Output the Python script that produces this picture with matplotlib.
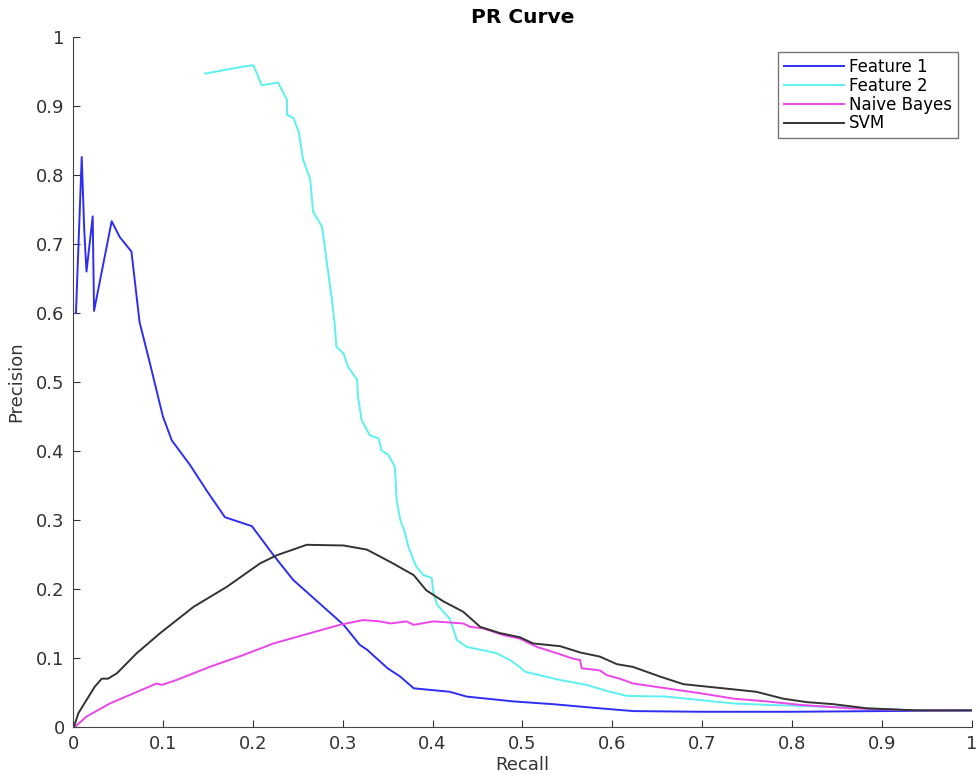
import matplotlib.pyplot as plt

# Feature 1 (blue)
f1_recall = [0.0033, 0.0033, 0.0097, 0.0125, 0.015, 0.0219, 0.0234, 0.043, 0.052, 0.065, 0.074,
             0.085, 0.1, 0.11, 0.13, 0.15, 0.169, 0.199, 0.223, 0.245, 0.301, 0.319, 0.327,
             0.35, 0.364, 0.379, 0.419, 0.438, 0.49, 0.534, 0.586, 0.623, 0.7, 0.8, 0.9, 1.0]
f1_precision = [0.6, 0.6, 0.826, 0.72, 0.66, 0.74, 0.603, 0.733, 0.71, 0.689, 0.587,
                0.53, 0.45, 0.415, 0.38, 0.34, 0.304, 0.291, 0.249, 0.213, 0.148, 0.119, 0.112,
                0.085, 0.073, 0.056, 0.051, 0.044, 0.037, 0.033, 0.027, 0.023, 0.022, 0.022, 0.023, 0.024]

# Feature 2 (cyan)
f2_recall = [0.147, 0.189, 0.2006, 0.21, 0.228, 0.238, 0.238, 0.245, 0.251, 0.256, 0.264,
             0.267, 0.277, 0.282, 0.288, 0.291, 0.293, 0.301, 0.306, 0.316, 0.317, 0.321,
             0.330, 0.340, 0.343, 0.351, 0.358, 0.360, 0.364, 0.369, 0.373, 0.382, 0.390,
             0.399, 0.401, 0.405, 0.419, 0.427, 0.438, 0.453, 0.471, 0.486, 0.497, 0.503,
             0.519, 0.542, 0.571, 0.597, 0.616, 0.660, 0.697, 0.735, 0.772, 0.846, 0.938, 1.0]
f2_precision = [0.947, 0.957, 0.959, 0.930, 0.934, 0.909, 0.887, 0.883, 0.863, 0.822, 0.793,
                0.747, 0.725, 0.677, 0.619, 0.585, 0.551, 0.541, 0.522, 0.503, 0.479, 0.445,
                0.423, 0.418, 0.401, 0.394, 0.377, 0.329, 0.300, 0.283, 0.261, 0.232, 0.220,
                0.216, 0.194, 0.177, 0.157, 0.126, 0.116, 0.112, 0.107, 0.097, 0.087, 0.080,
                0.075, 0.068, 0.061, 0.051, 0.045, 0.044, 0.039, 0.034, 0.032, 0.029, 0.024, 0.024]

# Naive Bayes (magenta)
nb_recall = [0.002, 0.015, 0.041, 0.093, 0.099, 0.115, 0.152, 0.189, 0.223, 0.264, 0.297,
             0.323, 0.341, 0.353, 0.371, 0.379, 0.401, 0.434, 0.442, 0.456, 0.479, 0.497,
             0.516, 0.538, 0.556, 0.564, 0.566, 0.586, 0.594, 0.608, 0.623, 0.660, 0.697,
             0.735, 0.772, 0.809, 0.864, 0.938, 1.0]
nb_precision = [0.0, 0.015, 0.034, 0.063, 0.061, 0.068, 0.087, 0.104, 0.121, 0.136, 0.148,
                0.155, 0.153, 0.150, 0.153, 0.148, 0.153, 0.150, 0.145, 0.143, 0.133, 0.128,
                0.116, 0.107, 0.099, 0.097, 0.085, 0.082, 0.075, 0.070, 0.063, 0.056, 0.049,
                0.041, 0.037, 0.032, 0.027, 0.024, 0.024]

# SVM (black)
svm_recall = [0.001, 0.006, 0.015, 0.024, 0.032, 0.039, 0.049, 0.071, 0.097, 0.134, 0.171,
              0.208, 0.227, 0.260, 0.301, 0.327, 0.356, 0.379, 0.393, 0.412, 0.434, 0.453,
              0.475, 0.497, 0.512, 0.542, 0.564, 0.586, 0.605, 0.623, 0.653, 0.679, 0.716,
              0.760, 0.790, 0.816, 0.846, 0.883, 0.938, 1.0]
svm_precision = [0.0, 0.020, 0.039, 0.058, 0.070, 0.070, 0.078, 0.107, 0.136, 0.174, 0.203,
                 0.237, 0.249, 0.264, 0.263, 0.257, 0.237, 0.220, 0.198, 0.182, 0.167, 0.145,
                 0.136, 0.130, 0.121, 0.117, 0.108, 0.102, 0.091, 0.087, 0.073, 0.062, 0.057,
                 0.051, 0.041, 0.036, 0.033, 0.027, 0.024, 0.024]

ticks = [0, 0.1, 0.2, 0.3, 0.4, 0.5, 0.6, 0.7, 0.8, 0.9, 1]
tick_labels = ['0', '0.1', '0.2', '0.3', '0.4', '0.5', '0.6', '0.7', '0.8', '0.9', '1']

plt.rcParams['font.family'] = ['DejaVu Sans']

fig = plt.figure(figsize=(9.8, 7.75), dpi=100)
ax = fig.add_axes([0.0745, 0.062, 0.9173, 0.8903])

lw = 1.4
ax.plot(f1_recall, f1_precision, color='#2e2ef2', lw=lw, label='Feature 1')
ax.plot(f2_recall, f2_precision, color='#5cf0f0', lw=lw, label='Feature 2')
ax.plot(nb_recall, nb_precision, color='#ea46ea', lw=lw, label='Naive Bayes')
ax.plot(svm_recall, svm_precision, color='#333333', lw=lw, label='SVM')

ax.set_xlim(0, 1)
ax.set_ylim(0, 1)
ax.set_xticks(ticks)
ax.set_xticklabels(tick_labels)
ax.set_yticks(ticks)
ax.set_yticklabels(tick_labels)
ax.tick_params(direction='in', length=5, labelsize=13, colors='#333333', pad=6)
for s in ['top', 'right']:
    ax.spines[s].set_visible(False)
for s in ['left', 'bottom']:
    ax.spines[s].set_color('#444444')

ax.set_xlabel('Recall', fontsize=13, color='#333333', labelpad=2)
ax.set_ylabel('Precision', fontsize=13, color='#333333', labelpad=8)
ax.set_title('PR Curve', fontsize=14.5, fontweight='bold', pad=10)

leg = ax.legend(loc='upper right', bbox_to_anchor=(0.9844, 0.978), fontsize=12,
                frameon=True, fancybox=False, borderpad=0.35, labelspacing=0.05,
                handlelength=3.6, handletextpad=0.3, borderaxespad=0)
leg.get_frame().set_edgecolor('#555555')
leg.get_frame().set_linewidth(1.0)

fig.savefig('out.png', dpi=100)
